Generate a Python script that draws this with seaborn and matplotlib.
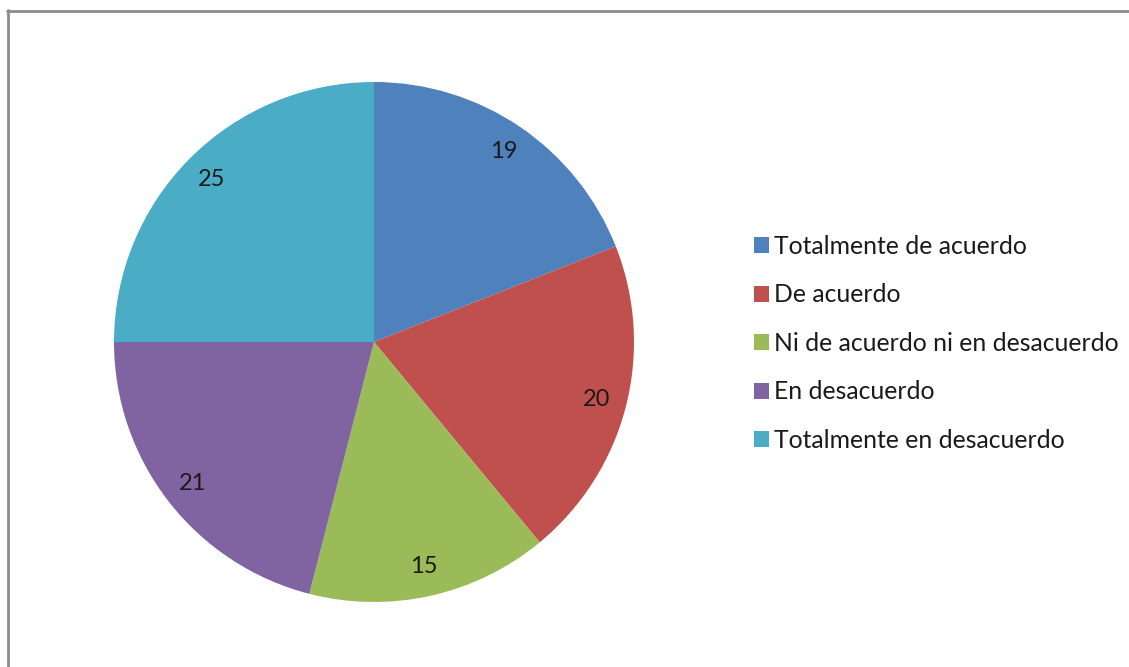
import matplotlib
matplotlib.use("Agg")
import matplotlib.pyplot as plt
import seaborn as sns
from matplotlib.lines import Line2D
from matplotlib.patches import Patch

categories = ["Totalmente de acuerdo", "De acuerdo", "Ni de acuerdo ni en desacuerdo",
              "En desacuerdo", "Totalmente en desacuerdo"]
values = [19, 20, 15, 21, 25]
colors = ["#4F81BD", "#C0504D", "#9BBB59", "#8064A2", "#4BACC6"]

sns.set_theme(style="white")
plt.rcParams['font.family'] = ['Lato', 'DejaVu Sans']

W, H = 1129, 667
fig = plt.figure(figsize=(W / 100, H / 100), dpi=100)
fig.patch.set_facecolor("white")

cx, cy, r = 374, 342, 260
ax = fig.add_axes([(cx - r) / W, (H - cy - r) / H, 2 * r / W, 2 * r / H])
wedges, texts = ax.pie(values, colors=colors, startangle=90, counterclock=False,
                       labels=[str(v) for v in values], labeldistance=0.885,
                       wedgeprops=dict(linewidth=0),
                       textprops=dict(fontsize=17, color="#1a1a1a", ha="center", va="center"))
for t in texts:
    t.set_ha("center")
    t.set_va("center")
ax.set_xlim(-1, 1)
ax.set_ylim(-1, 1)
ax.set_aspect("equal")
ax.axis("off")

handles = [Patch(facecolor=c, edgecolor="none") for c in colors]
leg = fig.legend(handles, categories, loc="upper left",
                 bbox_to_anchor=(754 / W, 1 - 235 / H), frameon=False,
                 fontsize=17.8, handlelength=0.6, handleheight=0.6,
                 handletextpad=0.22, labelspacing=1.03, borderaxespad=0, borderpad=0)
for t in leg.get_texts():
    t.set_color("#1a1a1a")

gray = "#8c8c8c"
fig.add_artist(Line2D([7.5 / W, 7.5 / W], [0, 1 - 10 / H], color=gray, linewidth=2,
                      transform=fig.transFigure))
fig.add_artist(Line2D([7 / W, 1], [1 - 10.5 / H, 1 - 10.5 / H], color=gray, linewidth=2,
                      transform=fig.transFigure))

fig.savefig("out.png", dpi=100, facecolor="white")
